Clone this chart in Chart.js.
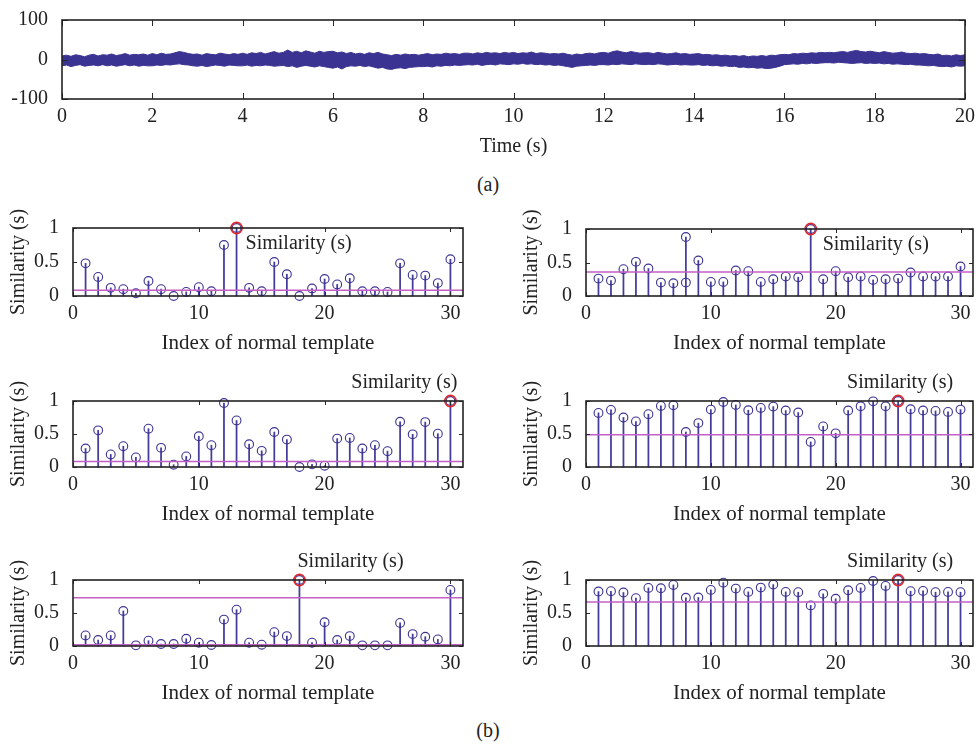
<!DOCTYPE html>
<html>
<head>
<meta charset="utf-8">
<script src="https://cdn.jsdelivr.net/npm/chart.js@4.4.1/dist/chart.umd.min.js"></script>
<style>
  html, body { margin: 0; padding: 0; background: #fff; }
  #wrap { position: relative; width: 976px; height: 746px; overflow: hidden; background: #fff; }
  canvas { position: absolute; }
  .cap { position: absolute; font-family: 'Liberation Serif', 'DejaVu Serif', serif; font-size: 20px; color: #222; transform: translate(-50%, -50%); white-space: nowrap; }
</style>
</head>
<body>
<div id="wrap">
  <div class="cap" style="left:488px; top:184px;">(a)</div>
  <div class="cap" style="left:488px; top:730px;">(b)</div>
</div>
<script>
// ---------------- DATA ----------------
// (a) time signal, sampled every 0.1 s from 0 to 20 s: upper and lower excursions of the raw trace
const signalStep = 0.1;
const signalUpper = [
  9,11,8,12,10,7,11,13,9,12,
  11,14,10,12,15,11,13,12,14,11,
  15,12,16,13,14,17,20,18,15,13,
  14,11,15,13,12,16,14,12,15,13,
  16,13,17,15,18,14,17,20,16,18,
  24,18,21,17,22,19,16,21,18,20,
  21,17,19,15,18,14,16,13,17,15,
  18,14,12,10,13,11,14,12,13,11,
  13,15,12,14,13,16,14,15,13,16,
  16,14,17,15,18,16,17,15,18,16,
  18,15,17,16,19,15,17,16,14,15,
  14,16,13,11,14,12,15,16,14,17,
  18,16,20,22,19,17,20,18,16,17,
  17,15,18,16,14,15,17,14,15,13,
  14,15,12,13,11,12,10,11,9,10,
  8,10,7,9,8,10,8,11,10,12,
  13,12,15,14,16,15,17,16,18,17,
  18,17,19,20,18,21,23,20,19,21,
  19,17,20,18,16,17,19,16,15,16,
  14,15,13,12,14,10,11,9,12,10,
  12
];
const signalLower = [
  -16,-14,-18,-15,-13,-17,-15,-14,-16,-13,
  -16,-14,-17,-15,-13,-16,-14,-17,-15,-16,
  -16,-14,-15,-13,-14,-12,-11,-13,-14,-16,
  -17,-15,-18,-16,-14,-15,-17,-14,-15,-16,
  -16,-14,-17,-15,-16,-14,-15,-17,-16,-15,
  -18,-16,-20,-17,-15,-17,-19,-16,-18,-20,
  -22,-19,-24,-18,-16,-17,-15,-18,-16,-19,
  -22,-20,-24,-25,-22,-21,-23,-20,-19,-18,
  -18,-17,-19,-16,-17,-15,-16,-14,-15,-14,
  -13,-14,-12,-15,-13,-12,-14,-11,-12,-13,
  -11,-12,-10,-12,-11,-13,-12,-14,-13,-15,
  -14,-16,-18,-20,-17,-16,-15,-14,-15,-13,
  -13,-14,-12,-13,-11,-12,-13,-11,-12,-13,
  -12,-13,-11,-12,-14,-13,-12,-14,-13,-14,
  -14,-13,-15,-14,-16,-15,-17,-16,-18,-17,
  -20,-19,-21,-20,-22,-21,-23,-22,-20,-17,
  -13,-12,-11,-12,-10,-11,-9,-10,-9,-8,
  -8,-9,-7,-8,-9,-10,-9,-8,-10,-9,
  -10,-9,-11,-10,-12,-11,-12,-13,-12,-14,
  -14,-15,-16,-15,-17,-18,-17,-19,-16,-17,
  -16
];
const timeTicks = [0,2,4,6,8,10,12,14,16,18,20];
const ampTicks = [-100,0,100];

// (b) similarity of each normal template
const templateIndex = [1,2,3,4,5,6,7,8,9,10,11,12,13,14,15,16,17,18,19,20,21,22,23,24,25,26,27,28,29,30];
const sim1 = [0.48,0.28,0.12,0.10,0.04,0.22,0.10,0.00,0.06,0.13,0.07,0.75,1.00,0.12,0.07,0.50,0.32,0.00,0.11,0.25,0.17,0.26,0.07,0.07,0.06,0.48,0.31,0.30,0.19,0.54];
const sim2 = [0.26,0.23,0.40,0.51,0.41,0.20,0.19,0.88,0.53,0.21,0.21,0.38,0.37,0.21,0.25,0.29,0.28,1.00,0.25,0.37,0.28,0.29,0.24,0.25,0.26,0.35,0.29,0.29,0.29,0.44];
const sim3 = [0.28,0.555,0.19,0.315,0.145,0.58,0.29,0.035,0.16,0.465,0.33,0.97,0.705,0.345,0.245,0.53,0.415,0.00,0.04,0.02,0.43,0.44,0.28,0.33,0.24,0.685,0.495,0.68,0.505,1.00];
const sim4 = [0.82,0.865,0.75,0.69,0.80,0.925,0.935,0.53,0.665,0.87,0.985,0.94,0.86,0.895,0.915,0.855,0.825,0.38,0.615,0.51,0.855,0.92,0.995,0.92,1.00,0.875,0.855,0.85,0.835,0.87];
const sim5 = [0.16,0.09,0.16,0.53,0.01,0.08,0.03,0.03,0.11,0.05,0.015,0.40,0.55,0.05,0.02,0.21,0.15,1.00,0.05,0.36,0.09,0.15,0.01,0.01,0.01,0.35,0.18,0.14,0.10,0.85];
const sim6 = [0.825,0.83,0.81,0.725,0.88,0.875,0.925,0.73,0.735,0.85,0.96,0.87,0.82,0.885,0.93,0.82,0.815,0.615,0.79,0.715,0.845,0.88,0.985,0.91,1.00,0.83,0.835,0.815,0.82,0.815];
const extraMarks2 = [[8, 0.20]];            // second marker drawn on stem 8 of plot 2
const bestIndex = [13, 18, 30, 25, 18, 25];  // ringed in red
const thresholds = [[0.085], [0.36], [0.085], [0.49], [0.73, 0.02], [0.665]];
const simTicksX = [0, 10, 20, 30];
const simTicksY = [0, 0.5, 1];
const simXMax = 31;
const noteText = 'Similarity (s)';
const xTitleSim = 'Index of normal template';
const yTitleSim = 'Similarity (s)';
const xTitleTime = 'Time (s)';

// ---------------- STYLE ----------------
const FONT = "'Liberation Serif', 'DejaVu Serif', serif";
const TXT = '#222';
const BLUE = '#3b3392';
const STEM = '#433c9c';
const MAG = '#c35fc6';
const RED = '#e3262b';
Chart.defaults.font.family = FONT;
Chart.defaults.color = TXT;
Chart.defaults.animation = false;

const wrap = document.getElementById('wrap');

const boxPlugin = {
  id: 'matlabBox',
  afterDatasetsDraw(chart, args, o) {
    const { ctx, chartArea: a, scales } = chart;
    const x = scales.x, y = scales.y;
    ctx.save();
    ctx.strokeStyle = '#2a2a2a';
    ctx.lineWidth = 1;
    const L = o.tickLen || 5;
    ctx.beginPath();
    x.ticks.forEach(t => {
      const px = Math.round(x.getPixelForValue(t.value)) + 0.5;
      ctx.moveTo(px, a.top); ctx.lineTo(px, a.top + L);
      ctx.moveTo(px, a.bottom); ctx.lineTo(px, a.bottom - L);
    });
    y.ticks.forEach(t => {
      const py = Math.round(y.getPixelForValue(t.value)) + 0.5;
      ctx.moveTo(a.left, py); ctx.lineTo(a.left + L, py);
      ctx.moveTo(a.right, py); ctx.lineTo(a.right - L, py);
    });
    ctx.stroke();
    ctx.lineWidth = 1.6;
    ctx.strokeStyle = '#222';
    ctx.strokeRect(a.left, a.top, a.right - a.left, a.bottom - a.top);
    if (o.note) {
      const n = o.note;
      const px = x.getPixelForValue(n.x) + n.dx;
      const py = y.getPixelForValue(n.y) + n.dy;
      ctx.fillStyle = TXT;
      ctx.font = '20px ' + FONT;
      ctx.textAlign = n.align;
      ctx.textBaseline = 'middle';
      ctx.fillText(noteText, px, py);
    }
    ctx.restore();
  }
};

function addCanvas(box, pad) {
  const c = document.createElement('canvas');
  const w = box.r - box.l + pad.l + pad.r;
  const h = box.b - box.t + pad.t + pad.b;
  c.width = w; c.height = h;
  c.style.left = (box.l - pad.l) + 'px';
  c.style.top = (box.t - pad.t) + 'px';
  c.style.width = w + 'px'; c.style.height = h + 'px';
  wrap.appendChild(c);
  return c;
}

const plainLabel = v => String(v);

// ---------- (a) time signal ----------
(function () {
  const box = { l: 62, t: 16, r: 965, b: 99 };
  const pad = { l: 62, t: 14, r: 11, b: 62 };
  const c = addCanvas(box, pad);
  const up = signalUpper.map((v, i) => ({ x: +(i * signalStep).toFixed(2), y: v }));
  const lo = signalLower.map((v, i) => ({ x: +(i * signalStep).toFixed(2), y: v }));
  new Chart(c, {
    type: 'line',
    data: {
      datasets: [
        { data: up, borderColor: BLUE, backgroundColor: BLUE, borderWidth: 1, pointRadius: 0, fill: '+1', tension: 0 },
        { data: lo, borderColor: BLUE, backgroundColor: BLUE, borderWidth: 1, pointRadius: 0, fill: false, tension: 0 }
      ]
    },
    options: {
      responsive: false,
      events: [],
      layout: { autoPadding: false, padding: { left: 0, top: pad.t, right: pad.r, bottom: 0 } },
      plugins: { legend: { display: false }, tooltip: { enabled: false }, matlabBox: { tickLen: 6 } },
      scales: {
        x: {
          type: 'linear', min: 0, max: 20,
          afterBuildTicks: s => { s.ticks = timeTicks.map(v => ({ value: v })); },
          afterFit: s => { s.height = pad.b; },
          grid: { display: false }, border: { display: false },
          ticks: { font: { size: 20 }, padding: -2, maxRotation: 0, color: TXT, callback: plainLabel },
          title: { display: true, text: xTitleTime, font: { size: 20 }, color: TXT, padding: { top: 0, bottom: 2 } }
        },
        y: {
          min: -100, max: 100,
          afterBuildTicks: s => { s.ticks = ampTicks.map(v => ({ value: v })); },
          afterFit: s => { s.width = pad.l; },
          grid: { display: false }, border: { display: false },
          ticks: { font: { size: 20 }, padding: 6, color: TXT, callback: plainLabel }
        }
      }
    },
    plugins: [boxPlugin]
  });
})();

// ---------- (b) six stem plots ----------
const simSets = [sim1, sim2, sim3, sim4, sim5, sim6];
const boxes = [
  { l: 73, t: 228, r: 463, b: 296 },
  { l: 586, t: 229, r: 973, b: 296 },
  { l: 73, t: 401, r: 463, b: 467 },
  { l: 586, t: 401, r: 973, b: 467 },
  { l: 73, t: 580, r: 463, b: 646 },
  { l: 586, t: 580, r: 973, b: 646 }
];
const notes = [
  { dx: 9, dy: 16, align: 'left' },
  { dx: 12, dy: 16, align: 'left' },
  { dx: 7, dy: -18, align: 'right' },
  { dx: 2, dy: -18, align: 'center' },
  { dx: -2, dy: -18, align: 'left' },
  { dx: 2, dy: -18, align: 'center' }
];

simSets.forEach((vals, k) => {
  const box = boxes[k];
  const pad = { l: 70, t: 34, r: k % 2 === 0 ? 36 : 3, b: 62 };
  const c = addCanvas(box, pad);
  const pts = vals.map((v, i) => ({ x: templateIndex[i], y: v }));
  const marks = pts.slice();
  if (k === 1) extraMarks2.forEach(e => marks.push({ x: e[0], y: e[1] }));
  const bi = bestIndex[k];
  const best = [{ x: bi, y: vals[templateIndex.indexOf(bi)] }];
  const ds = [];
  thresholds[k].forEach(th => {
    ds.push({ type: 'line', data: [{ x: 0, y: th }, { x: simXMax, y: th }], borderColor: MAG, borderWidth: 1.5, pointRadius: 0, fill: false, clip: false });
  });
  ds.push({ type: 'scatter', data: best, pointRadius: 5.6, pointBorderWidth: 1.6, pointBorderColor: RED, pointBackgroundColor: 'rgba(0,0,0,0)', clip: false });
  ds.push({ type: 'scatter', data: marks, pointRadius: 4.4, pointBorderWidth: 1.1, pointBorderColor: BLUE, pointBackgroundColor: 'rgba(0,0,0,0)', clip: false });
  ds.push({ type: 'bar', data: pts, backgroundColor: STEM, borderWidth: 0, barThickness: 1.1, grouped: false, clip: false });
  new Chart(c, {
    type: 'scatter',
    data: { datasets: ds },
    options: {
      responsive: false,
      events: [],
      layout: { autoPadding: false, padding: { left: 0, top: pad.t, right: pad.r, bottom: 0 } },
      plugins: { legend: { display: false }, tooltip: { enabled: false }, matlabBox: { tickLen: 4, note: Object.assign({ x: bi, y: best[0].y }, notes[k]) } },
      scales: {
        x: {
          type: 'linear', min: 0, max: simXMax, offset: false,
          afterBuildTicks: s => { s.ticks = simTicksX.map(v => ({ value: v })); },
          afterFit: s => { s.height = pad.b; },
          grid: { display: false }, border: { display: false },
          ticks: { font: { size: 20 }, padding: -2, maxRotation: 0, color: TXT, callback: plainLabel },
          title: { display: true, text: xTitleSim, font: { size: 21 }, color: TXT, padding: { top: 0, bottom: 2 } }
        },
        y: {
          type: 'linear', min: 0, max: 1,
          afterBuildTicks: s => { s.ticks = simTicksY.map(v => ({ value: v })); },
          afterFit: s => { s.width = pad.l; },
          grid: { display: false }, border: { display: false },
          ticks: { font: { size: 20 }, padding: 6, color: TXT, callback: plainLabel },
          title: { display: true, text: yTitleSim, font: { size: 20 }, color: TXT, padding: { top: 4, bottom: 0 } }
        }
      }
    },
    plugins: [boxPlugin]
  });
});
</script>
</body>
</html>
